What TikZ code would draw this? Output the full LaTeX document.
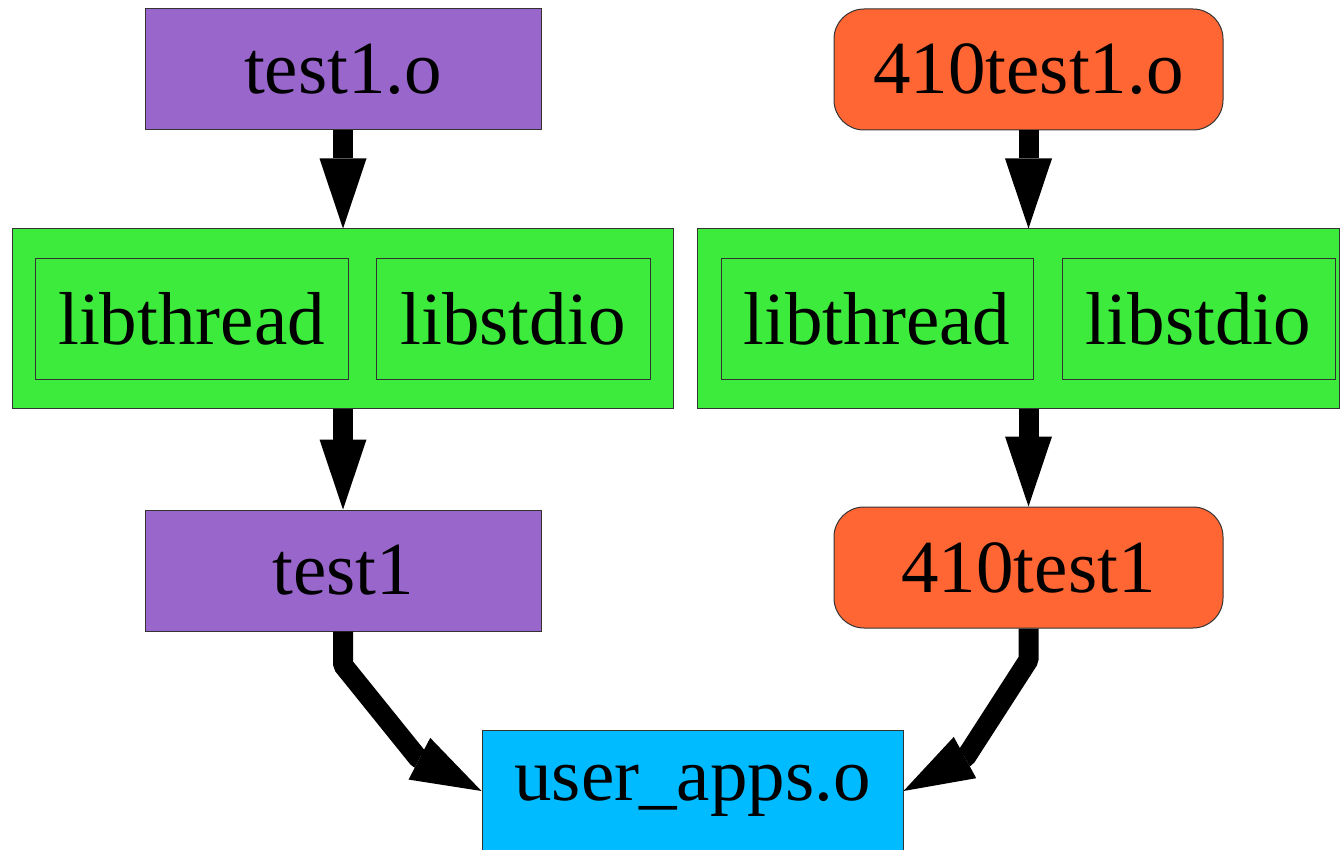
\documentclass[tikz,border=0pt]{standalone}
\usepackage{fontspec}
\setmainfont{Liberation Serif}
\usetikzlibrary{arrows.meta}
\definecolor{cpurple}{HTML}{9966CC}
\definecolor{corange}{HTML}{FF6633}
\definecolor{cgreen}{HTML}{3CEB3C}
\definecolor{ccyan}{HTML}{00BBFF}
\definecolor{cborder}{HTML}{333333}
\tikzset{
  box/.style={draw=cborder, line width=1pt, inner sep=0pt, minimum height=121pt,
    font=\fontsize{75}{75}\selectfont},
  purplebox/.style={box, fill=cpurple, minimum width=396pt},
  orangebox/.style={box, fill=corange, minimum width=389pt, rounded corners=30pt},
  recbox/.style={draw=cborder, line width=1pt, fill=cgreen, minimum height=179pt, inner sep=0pt},
  fieldbox/.style={box, fill=cgreen},
  userbox/.style={box, fill=ccyan, minimum width=421pt},
  arr/.style={line width=20pt, line join=bevel,
    -{Triangle[length=70pt,width=47pt,line width=0pt]}}
}
\begin{document}
\begin{tikzpicture}[x=1pt,y=-1pt]
\useasboundingbox (0,0) rectangle (1340,850);
% top nodes
\node[purplebox] (test1o) at (343,69.5) {test1.o};
\node[orangebox] (n410o) at (1028.5,69.5) {410test1.o};
% records
\node[recbox, minimum width=661pt] (recL) at (342.5,318.5) {};
\node[fieldbox, minimum width=313pt] (thrL) at (191.5,318.5) {libthread};
\node[fieldbox, minimum width=274pt] (stdL) at (513,318.5) {libstdio};
\node[recbox, minimum width=642pt] (recR) at (1018,318.5) {};
\node[fieldbox, minimum width=312pt] (thrR) at (877,318.5) {libthread};
\node[fieldbox, minimum width=273pt] (stdR) at (1198.5,318.5) {libstdio};
% middle nodes
\node[purplebox] (test1) at (343,570.5) {test1};
\node[orangebox] (n410) at (1028.5,567.5) {410test1};
% bottom
\node[userbox] (user) at (692.5,791) {user\_apps.o};
% bend points of the lower edges
\coordinate (bL1) at (343,665);
\coordinate (bL2) at (418,758);
\coordinate (bR1) at (1028.5,660);
\coordinate (bR2) at (966,757);
% edges
\draw[arr] (test1o.south) -- (test1o.south |- recL.north);
\draw[arr] (n410o.south) -- (n410o.south |- recR.north);
\draw[arr] (recL.south -| test1.north) -- (test1.north);
\draw[arr] (recR.south -| n410.north) -- (n410.north);
\draw[arr] (test1.south) -- (bL1) -- (bL2) -- (user.west);
\draw[arr] (n410.south) -- (bR1) -- (bR2) -- (user.east);
\end{tikzpicture}
\end{document}
